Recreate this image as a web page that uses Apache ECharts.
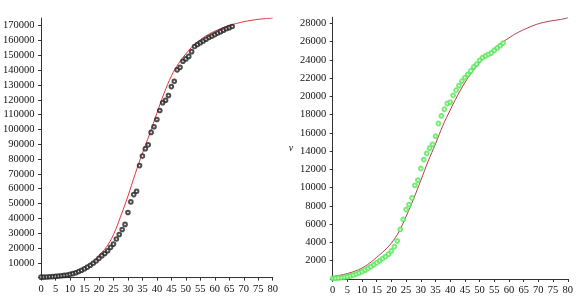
<!DOCTYPE html>
<html>
<head>
<meta charset="utf-8">
<script src="https://cdn.jsdelivr.net/npm/echarts@6/dist/echarts.min.js"></script>
<style>
  html, body { margin: 0; padding: 0; background: #fff; }
  #main { width: 576px; height: 296px; }
</style>
</head>
<body>
<div id="main"></div>
<script>
// 左图：观测点（按天 0..66）
const leftObserved = [
  300, 350, 450, 550, 650, 800, 1000, 1200, 1500, 1800,
  2200, 2700, 3300, 4100, 5000, 6000, 7100, 8300, 9700, 11200,
  13000, 14800, 16300, 18100, 20400, 22600, 26000, 29100, 32500, 35900,
  43900, 51100, 56000, 58300, 75600, 82000, 87000, 89600, 98000, 101800,
  106700, 112800, 118000, 119700, 122900, 128900, 132500, 140200, 141900, 146000,
  147600, 149300, 152500, 156000, 157300, 158500, 159700, 160900, 162000, 163000,
  164000, 165000, 166000, 167000, 167900, 168700, 169500
];
// 右图：观测点（按天 0..58）
const rightObserved = [
  60, 80, 110, 150, 200, 260, 340, 430, 540, 670,
  810, 970, 1150, 1350, 1560, 1780, 2000, 2240, 2460, 2720,
  3080, 3540, 4160, 5430, 6520, 7610, 8150, 8870, 10250, 10830,
  12100, 13080, 13760, 14330, 14750, 15640, 17030, 17860, 18590, 19220,
  19360, 20120, 20670, 21180, 21660, 22060, 22420, 22780, 23220, 23520,
  23950, 24250, 24420, 24610, 24750, 25050, 25300, 25560, 25840
];
// 拟合曲线取样点
const fitT = [
  0, 2.5, 5, 7.5, 10, 12.5, 15, 17.5, 20, 22.5, 25, 27.5, 30, 32.5, 35, 37.5,
  40, 42.5, 45, 47.5, 50, 52.5, 55, 57.5, 60, 62.5, 65, 67.5, 70, 72.5, 75, 77.5, 80
];
const leftFit = [
  600, 800, 1100, 1800, 2900, 4500, 6700, 10000, 15000, 20500, 29000, 41500,
  55000, 70000, 84000, 97000, 111000, 124500, 136000, 144500, 151000, 156500,
  160500, 163800, 166300, 168400, 170200, 171500, 172700, 173600, 174300, 174800, 175200
];
const rightFit = [
  280, 410, 600, 850, 1200, 1720, 2380, 3080, 3940, 5150, 6850, 8750,
  10800, 12900, 14800, 16800, 18500, 20100, 21500, 22700, 23700, 24500,
  25200, 25850, 26400, 26900, 27300, 27650, 27950, 28150, 28300, 28420, 28600
];
const xTicks = [0, 5, 10, 15, 20, 25, 30, 35, 40, 45, 50, 55, 60, 65, 70, 75, 80];
const leftYTicks = [10000, 20000, 30000, 40000, 50000, 60000, 70000, 80000, 90000,
  100000, 110000, 120000, 130000, 140000, 150000, 160000, 170000];
const rightYTicks = [2000, 4000, 6000, 8000, 10000, 12000, 14000, 16000, 18000,
  20000, 22000, 24000, 26000, 28000];

const font = "Liberation Serif";
const axisColor = "#333";

const chart = echarts.init(document.getElementById("main"));

function xAxisOf(gridIndex, xMin) {
  return {
    type: "value",
    gridIndex: gridIndex,
    min: xMin,
    max: 80,
    axisLine: { onZero: false, lineStyle: { color: axisColor, width: 1 } },
    axisTick: { customValues: xTicks, length: 3, lineStyle: { color: axisColor } },
    axisLabel: {
      customValues: xTicks,
      margin: 6,
      color: "#111",
      fontFamily: font,
      fontSize: 10.5,
      formatter: (v) => String(v),
    },
    splitLine: { show: false },
  };
}

function yAxisOf(gridIndex, yMax, ticks, name) {
  return {
    type: "value",
    gridIndex: gridIndex,
    min: 0,
    max: yMax,
    name: name,
    nameLocation: "middle",
    nameRotate: 0,
    nameGap: 37,
    nameTextStyle: { fontFamily: font, fontStyle: "italic", fontSize: 10, color: "#111" },
    axisLine: { show: true, lineStyle: { color: axisColor, width: 1 } },
    axisTick: { customValues: ticks, length: 3, lineStyle: { color: axisColor } },
    axisLabel: {
      customValues: ticks,
      margin: 4,
      color: "#111",
      fontFamily: font,
      fontSize: 10.5,
      formatter: (v) => String(v),
    },
    splitLine: { show: false },
  };
}

const option = {
  backgroundColor: "#fff",
  animation: false,
  grid: [
    { left: 34.7, right: 303.3, top: 18, bottom: 18.4 },
    { left: 330.3, right: 4, top: 17.3, bottom: 16.7 },
  ],
  xAxis: [xAxisOf(0, -0.9), xAxisOf(1, -0.8)],
  yAxis: [
    yAxisOf(0, 175200, leftYTicks, ""),
    yAxisOf(1, 28660, rightYTicks, "v"),
  ],
  series: [
    {
      type: "line",
      xAxisIndex: 0,
      yAxisIndex: 0,
      data: fitT.map((t, i) => [t, leftFit[i]]),
      smooth: 0.4,
      showSymbol: false,
      lineStyle: { color: "#e8323c", width: 1 },
      z: 2,
    },
    {
      type: "scatter",
      xAxisIndex: 0,
      yAxisIndex: 0,
      data: leftObserved.map((v, i) => [i, v]),
      symbol: "emptyCircle",
      symbolSize: 3.6,
      itemStyle: { color: "#222", borderColor: "#222", borderWidth: 0.9 },
      z: 3,
    },
    {
      type: "line",
      xAxisIndex: 1,
      yAxisIndex: 1,
      data: fitT.map((t, i) => [t, rightFit[i]]),
      smooth: 0.4,
      showSymbol: false,
      lineStyle: { color: "#b83a48", width: 1 },
      z: 2,
    },
    {
      type: "scatter",
      xAxisIndex: 1,
      yAxisIndex: 1,
      data: rightObserved.map((v, i) => [i, v]),
      symbol: "emptyCircle",
      symbolSize: 3.8,
      itemStyle: { color: "#55e855", borderColor: "#55e855", borderWidth: 1.2 },
      z: 3,
    },
  ],
};

chart.setOption(option);
</script>
</body>
</html>
